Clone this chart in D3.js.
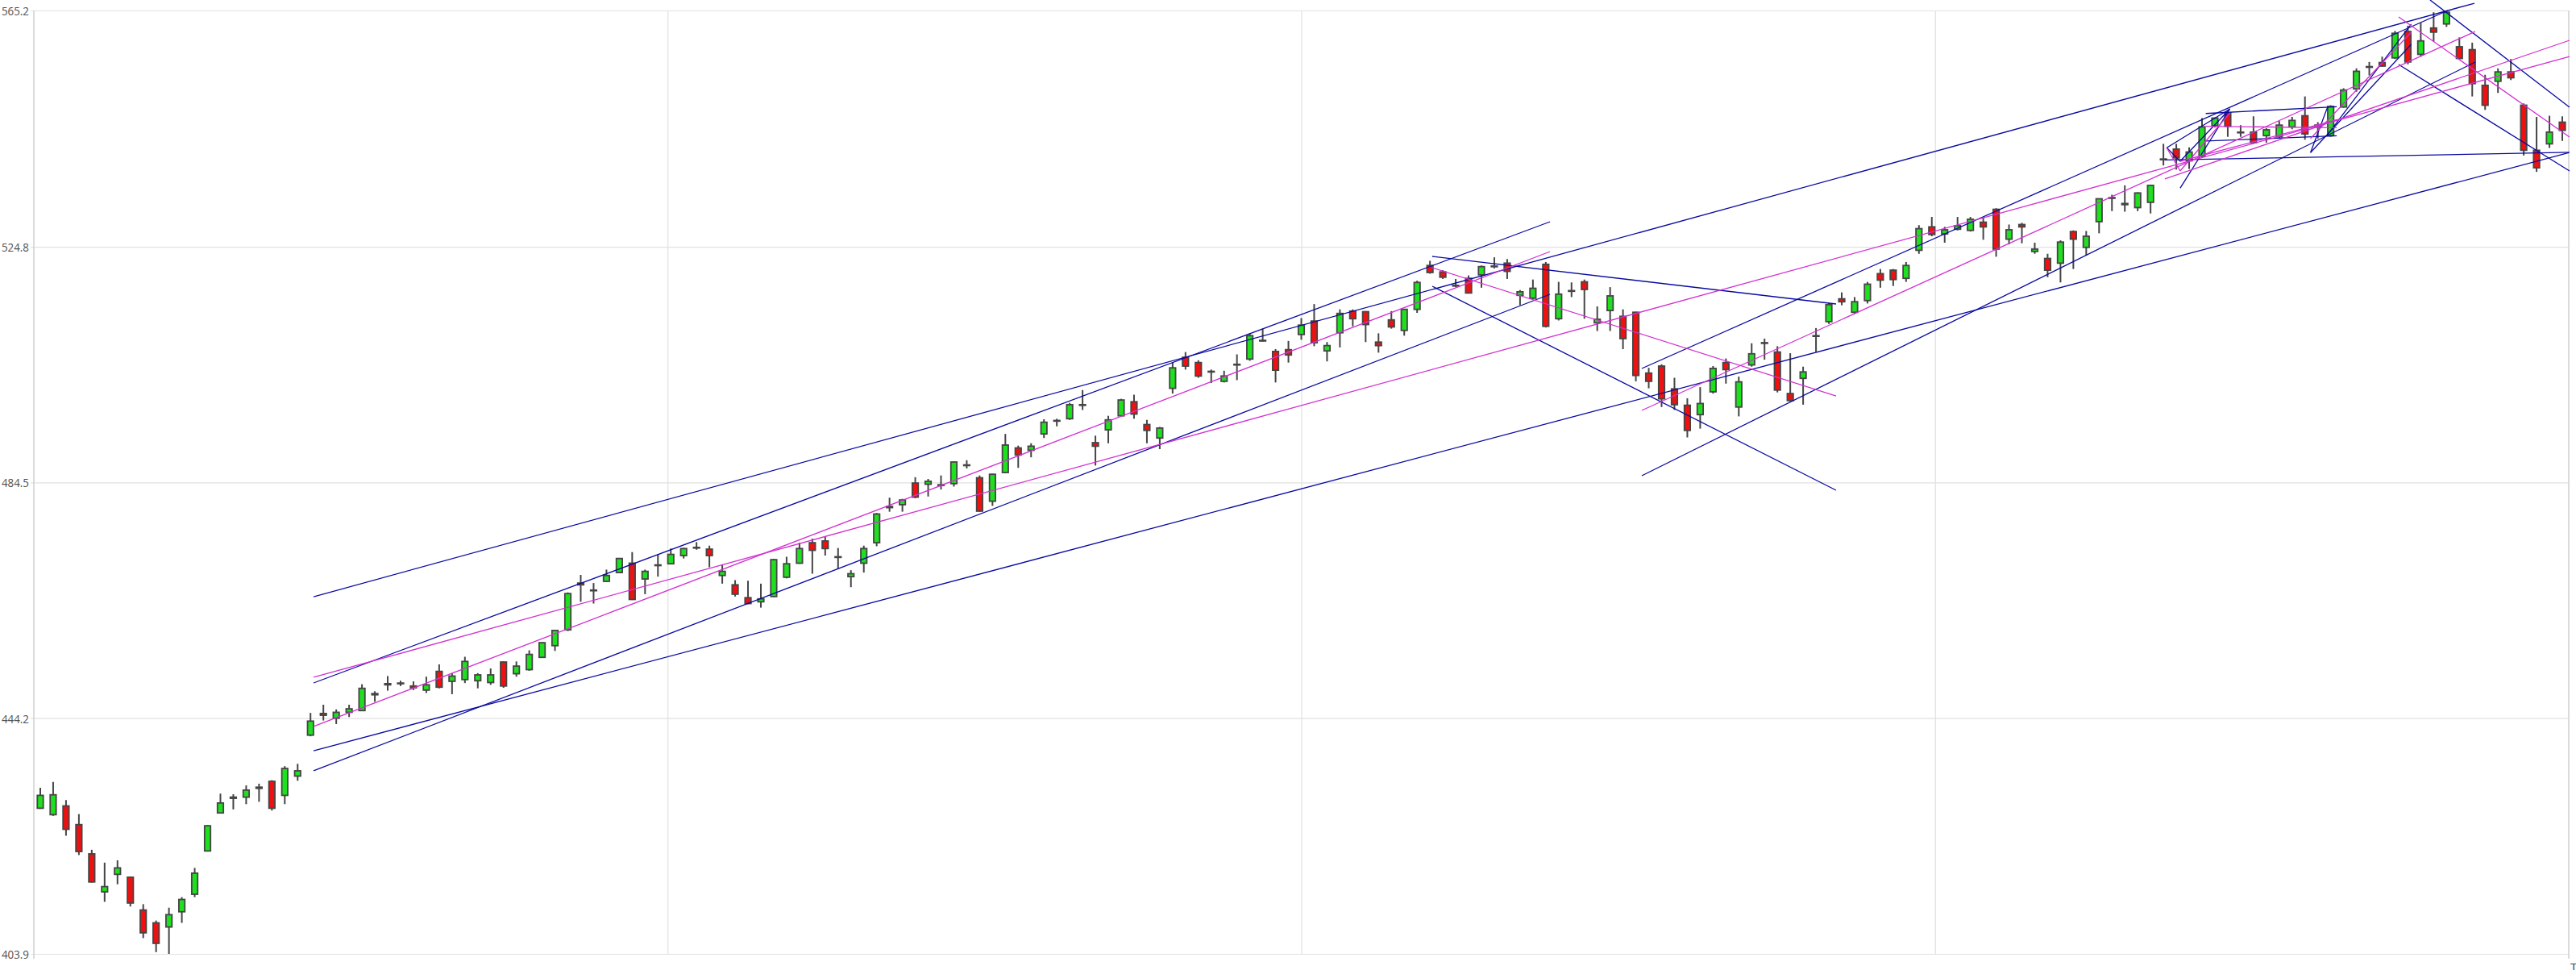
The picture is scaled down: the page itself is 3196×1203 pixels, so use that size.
<!DOCTYPE html>
<html>
<head>
<meta charset="utf-8">
<script src="https://cdn.jsdelivr.net/npm/d3@7"></script>
<style>
html,body{margin:0;padding:0;background:#fff;overflow:hidden;}
svg{display:block;}
</style>
</head>
<body>
<svg id="chart" width="3196" height="1203"></svg>
<script>
// ---------------- DATA ----------------
const opens = [428.8,427.7,429.2,426.0,421.0,414.5,417.5,417.0,411.4,409.2,408.5,411.1,414.1,421.5,428.0,430.7,430.7,432.2,433.4,431.0,
434.3,441.3,445.0,444.2,445.2,445.5,448.2,450.1,450.1,449.7,449.0,452.2,450.5,450.8,450.6,450.3,453.8,451.8,452.5,454.6,
456.6,459.3,467.3,466.0,467.6,469.1,470.7,468.0,470.3,470.6,472.0,473.3,473.1,468.6,467.0,464.8,464.1,465.0,468.3,470.7,
474.2,474.5,471.7,468.4,470.7,474.2,480.4,480.7,484.4,484.2,484.0,484.3,487.4,485.3,481.3,486.2,490.4,490.0,492.8,495.0,
495.4,497.7,491.3,493.5,495.9,498.3,494.4,492.1,500.6,505.9,505.0,503.4,501.8,504.6,505.6,508.8,506.9,507.2,509.8,512.1,
507.0,510.1,513.8,513.7,508.5,512.3,510.5,514.1,521.6,520.5,518.2,519.4,520.0,521.4,522.0,516.5,516.0,521.8,512.5,517.3,
518.8,511.8,513.9,512.9,513.6,503.2,504.4,500.5,497.7,496.1,500.0,505.0,497.4,504.6,508.3,506.8,499.7,502.3,509.5,512.0,
515.9,513.6,515.6,520.2,520.8,519.4,524.2,528.2,527.0,527.8,527.6,529.0,531.2,526.1,528.6,524.0,522.8,522.0,527.4,524.7,
529.1,533.1,532.2,531.5,532.4,539.8,541.5,539.5,540.3,545.5,547.7,544.4,544.4,543.8,543.6,545.3,547.2,545.6,543.8,548.7,
551.8,555.5,556.3,557.1,561.6,557.7,562.2,562.9,559.0,558.5,552.4,553.1,554.7,549.0,541.3,542.4,546.1];
const highs = [432.3,433.3,430.2,427.8,421.7,419.5,419.9,417.1,412.4,409.6,411.8,413.6,418.6,425.9,431.3,431.2,432.7,433.0,433.6,436.0,
436.4,445.1,446.5,445.7,446.5,450.0,448.8,451.4,450.6,450.5,451.3,453.4,451.9,454.7,451.9,452.7,453.9,453.9,455.8,457.2,
459.3,465.7,468.7,467.3,469.6,471.6,472.6,469.6,472.2,473.2,473.3,474.3,473.7,470.5,467.8,467.7,467.2,471.4,471.8,474.2,
474.9,475.3,473.3,469.5,473.7,479.3,481.9,481.7,485.4,485.1,485.7,488.0,488.3,485.7,486.0,492.8,490.8,491.2,495.3,495.4,
498.1,500.3,492.5,495.9,498.8,499.5,495.2,494.0,505.0,506.8,505.4,503.8,503.6,506.4,510.0,510.8,507.3,508.7,512.6,515.0,
508.5,514.1,514.1,513.8,510.0,513.8,514.1,519.0,522.4,520.8,519.3,519.9,521.6,523.0,522.7,517.4,519.2,522.2,518.8,518.7,
519.2,514.6,517.9,514.1,513.7,504.1,504.7,502.4,498.9,500.8,504.4,505.7,502.6,508.3,509.1,507.8,506.6,504.3,510.9,515.2,
517.0,516.2,518.8,521.0,521.0,522.2,528.5,529.9,528.2,529.9,529.9,529.8,531.4,528.6,528.9,525.5,523.6,525.9,527.6,527.5,
533.0,533.7,535.3,534.1,535.3,542.4,542.4,541.8,546.8,546.9,547.8,545.6,547.1,545.1,546.3,547.0,550.5,546.1,549.0,551.9,
555.3,556.4,557.3,561.7,562.6,563.1,564.9,565.2,560.6,559.7,554.2,555.3,556.9,549.3,547.0,547.2,547.1];
const lows = [428.7,427.5,424.1,420.8,416.1,412.8,415.8,412.0,406.6,404.2,403.9,409.2,413.6,421.4,427.9,428.6,429.5,429.9,428.4,429.5,
433.5,441.1,443.8,443.2,444.4,445.4,447.0,448.9,449.7,449.0,448.5,449.3,448.3,450.2,449.3,449.9,449.4,451.3,452.3,454.5,
455.7,459.1,464.1,463.8,467.5,469.0,464.4,465.4,468.4,470.5,471.5,473.0,470.0,467.2,465.0,463.7,463.1,464.9,468.1,470.6,
468.9,472.0,469.8,466.6,469.1,473.6,479.5,479.5,481.8,482.1,483.3,483.8,486.9,479.5,480.5,486.1,487.0,488.8,492.1,494.1,
495.2,496.9,487.4,491.2,495.8,495.4,491.2,490.2,499.7,503.8,502.4,501.5,501.6,502.0,505.3,508.6,501.6,505.0,508.9,507.8,
505.2,507.6,511.2,508.5,506.7,510.8,509.6,513.5,520.2,519.3,517.9,516.8,517.8,521.1,519.3,514.8,515.8,511.0,512.2,516.2,
512.5,510.4,510.4,507.3,501.8,500.6,497.4,496.9,492.2,493.7,499.7,501.4,495.8,504.3,505.5,499.9,498.4,497.8,506.8,511.6,
514.8,513.3,515.1,517.8,518.1,518.8,523.6,526.6,525.5,527.6,527.4,526.0,523.1,525.2,525.4,523.6,519.6,518.7,521.0,523.3,
527.1,530.9,530.8,530.9,530.5,538.7,538.0,538.1,540.1,545.2,543.6,543.6,542.4,542.6,543.3,544.9,543.1,543.3,543.6,548.6,
551.3,554.1,555.6,556.9,556.0,557.3,559.9,562.4,556.9,550.5,548.2,551.1,553.3,540.4,537.6,541.7,542.9];
const closes = [431.0,431.1,425.2,421.4,416.2,415.4,418.6,412.6,407.5,405.7,410.6,413.2,417.7,425.8,429.7,430.5,431.9,432.4,428.8,435.6,
435.2,443.7,444.7,445.2,445.8,449.3,448.4,449.9,450.2,449.4,449.9,449.5,451.4,453.9,451.6,451.6,449.7,453.1,455.1,457.1,
459.2,465.5,467.0,466.1,468.6,471.5,464.5,469.3,470.4,472.2,473.2,473.4,472.0,469.3,465.4,463.8,464.6,471.3,470.6,473.2,
472.9,473.2,471.8,468.9,473.2,479.1,480.2,481.5,482.0,484.7,484.1,488.0,487.5,479.6,485.9,490.9,489.2,490.7,494.8,495.1,
497.8,497.8,490.7,495.2,498.6,496.2,493.4,493.8,504.1,504.4,502.7,503.5,502.7,504.7,509.6,508.7,503.7,506.3,511.4,508.4,
507.9,513.4,512.5,511.5,507.9,511.1,514.1,518.7,520.4,519.6,518.1,516.9,521.4,521.5,520.6,517.1,517.7,511.2,516.7,517.2,
517.5,512.4,516.4,509.1,502.8,501.8,498.8,497.8,493.4,498.0,504.0,503.8,501.7,506.5,508.4,500.3,498.5,503.4,509.6,514.9,
515.4,515.4,518.4,519.1,519.2,521.6,527.9,526.9,527.7,528.4,529.5,528.2,524.4,527.7,528.2,524.4,520.8,525.6,526.1,526.6,
533.0,533.2,532.0,534.0,535.3,539.7,540.0,541.0,545.3,546.8,545.4,544.3,542.6,544.8,545.6,546.4,544.1,545.3,548.8,551.6,
554.8,555.6,555.7,561.3,556.4,560.0,561.5,564.9,557.0,552.7,549.0,554.7,553.7,541.3,538.3,544.4,544.7];

// price axis tick labels
const yTicks = [403.9, 444.2, 484.5, 524.8, 565.2];
const yTickLabels = ["403.9", "444.2", "484.5", "524.8", "565.2"];
// vertical grid lines, in candle-index units
const xGridTicks = [48.75, 98, 147.25];

// trend lines: [startIndex, startPrice, endIndex, endPrice]
const blueLines = [
  [21.24, 464.97, 189.17, 566.44],
  [21.24, 450.22, 117.33, 529.08],
  [21.24, 438.64, 196.5, 540.87],
  [21.24, 435.20, 117.33, 516.67],
  [108.18, 523.15, 139.56, 515.02],
  [108.18, 518.05, 139.56, 483.17],
  [124.46, 503.99, 187.10, 565.20],
  [124.46, 485.65, 189.23, 556.38],
  [185.72, 567.00, 196.56, 548.66],
  [183.28, 555.96, 196.56, 537.76],
  [165.11, 539.63, 196.56, 540.94],
  [168.29, 547.59, 178.47, 548.75],
  [168.29, 542.87, 178.47, 543.79],
  [165.26, 541.72, 170.17, 548.38],
  [165.26, 541.72, 166.30, 539.42],
  [166.30, 534.83, 170.17, 548.38],
  [166.30, 539.42, 170.17, 548.38],
  [176.43, 540.90, 184.26, 559.41],
  [177.69, 543.79, 184.26, 562.86],
  [176.43, 540.90, 177.77, 548.75]
];
const magentaLines = [
  [21.24, 442.78, 117.33, 523.98],
  [21.24, 451.19, 196.56, 557.34],
  [124.46, 496.82, 189.23, 561.61],
  [108.18, 521.22, 139.56, 499.30],
  [183.28, 564.10, 196.56, 543.56],
  [165.11, 536.39, 196.56, 560.10],
  [165.24, 541.76, 166.30, 537.76],
  [166.30, 537.76, 170.17, 547.69],
  [168.29, 545.39, 178.47, 545.17],
  [166.30, 539.42, 178.51, 546.55],
  [176.43, 543.32, 184.26, 561.48]
];

// ---------------- CHART ----------------
const W = 3196, H = 1203;
const plot = {left: 42, right: 3187, top: 13, bottom: 1183};
const N = opens.length;
const svg = d3.select("#chart");
const labelFont = "'Open Sans', 'Noto Sans', sans-serif";

const x = d3.scaleBand().domain(d3.range(N)).range([plot.left, plot.right]).padding(0);
const xl = d3.scaleLinear().domain([-0.5, N - 0.5]).range([plot.left, plot.right]);
const y = d3.scaleLinear().domain([403.9, 565.2]).range([plot.bottom, plot.top]);

// horizontal grid + labels
const yAxis = d3.axisLeft(y).tickValues(yTicks)
  .tickFormat((d, i) => yTickLabels[i])
  .tickSize(-(plot.right - plot.left) - 4).tickPadding(2);
const gy = svg.append("g").attr("transform", `translate(${plot.left - 4},0)`).call(yAxis);
gy.select(".domain").remove();
gy.selectAll(".tick line").attr("stroke", "#e1e1e1").attr("stroke-width", 1.2)
  .attr("x1", 0).attr("x2", plot.right - plot.left + 4);
gy.selectAll(".tick text").attr("fill", "#505050").attr("font-size", 15)
  .attr("font-family", labelFont).attr("dy", "0.36em")
  .attr("textLength", 34).attr("lengthAdjust", "spacingAndGlyphs");

// vertical grid
const xAxis = d3.axisBottom(xl).tickValues(xGridTicks).tickFormat("")
  .tickSize(-(plot.bottom - plot.top));
const gx = svg.append("g").attr("transform", `translate(0,${plot.bottom})`).call(xAxis);
gx.select(".domain").remove();
gx.selectAll(".tick line").attr("stroke", "#e1e1e1").attr("stroke-width", 1.2);

// frame lines (left and right axis)
svg.append("line").attr("x1", plot.left).attr("x2", plot.left)
  .attr("y1", plot.top).attr("y2", plot.bottom + 6).attr("stroke", "#cfcfcf").attr("stroke-width", 1.5);
svg.append("line").attr("x1", plot.right).attr("x2", plot.right)
  .attr("y1", plot.top).attr("y2", plot.bottom + 6).attr("stroke", "#cfcfcf").attr("stroke-width", 1.5);

// candles
const bw = x.bandwidth();
const bodyW = 7.4;
const candles = svg.append("g");
const idx = d3.range(N);
candles.selectAll("line.wick").data(idx).join("line")
  .attr("class", "wick")
  .attr("x1", i => x(i) + bw / 2).attr("x2", i => x(i) + bw / 2)
  .attr("y1", i => y(highs[i])).attr("y2", i => y(lows[i]))
  .attr("stroke", "#454545").attr("stroke-width", 2);
candles.selectAll("rect.body").data(idx).join("rect")
  .attr("class", "body")
  .attr("x", i => x(i) + bw / 2 - bodyW / 2)
  .attr("width", bodyW)
  .attr("y", i => y(Math.max(opens[i], closes[i])))
  .attr("height", i => Math.max(Math.abs(y(opens[i]) - y(closes[i])), 0.8))
  .attr("fill", i => closes[i] >= opens[i] ? "#1ee01e" : "#ee1111")
  .attr("stroke", "#454545").attr("stroke-width", 1.8);

// trend lines
const lg = svg.append("g").attr("fill", "none");
lg.selectAll("line.b").data(blueLines).join("line")
  .attr("class", "b")
  .attr("x1", d => xl(d[0])).attr("y1", d => y(d[1]))
  .attr("x2", d => xl(d[2])).attr("y2", d => y(d[3]))
  .attr("stroke", "#0a0aa0").attr("stroke-width", 1.3);
lg.selectAll("line.m").data(magentaLines).join("line")
  .attr("class", "m")
  .attr("x1", d => xl(d[0])).attr("y1", d => y(d[1]))
  .attr("x2", d => xl(d[2])).attr("y2", d => y(d[3]))
  .attr("stroke", "#d232d2").attr("stroke-width", 1.3);

// truncated x label at bottom right
svg.append("text").attr("x", plot.right + 2).attr("y", H + 2)
  .attr("fill", "#2f4f4f").attr("font-size", 15)
  .attr("font-family", labelFont).text("T");
</script>
</body>
</html>
